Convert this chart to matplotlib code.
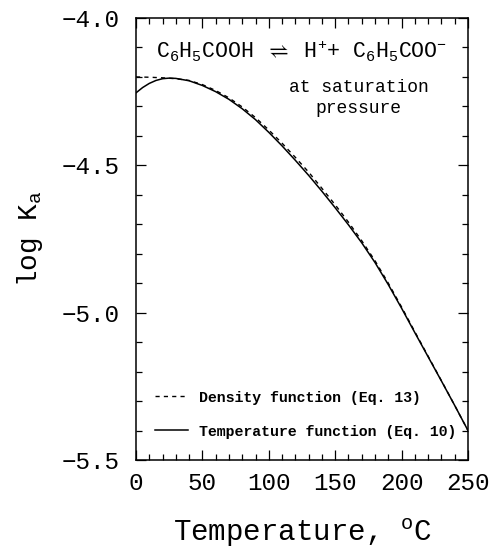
import matplotlib
matplotlib.use("Agg")
import matplotlib.pyplot as plt
from matplotlib.ticker import MultipleLocator
import numpy as np

# Data
temp_solid = [0, 5, 10, 15, 20, 25, 30, 40, 50, 60, 70, 80, 90, 100, 110, 120, 130, 140,
              150, 160, 170, 180, 190, 200, 210, 220, 230, 240, 250]
logk_solid = [-4.254, -4.236, -4.222, -4.212, -4.206, -4.204, -4.205, -4.213, -4.229,
              -4.250, -4.276, -4.308, -4.345, -4.388, -4.434, -4.483, -4.534, -4.588,
              -4.644, -4.702, -4.763, -4.830, -4.905, -4.985, -5.068, -5.150, -5.232,
              -5.315, -5.400]
temp_dash = [0, 10, 20, 30, 40, 50, 60, 70, 80, 90, 100, 110, 120, 130, 140, 150,
             160, 170, 180, 190, 200, 210, 220, 230, 240, 250]
logk_dash = [-4.200, -4.201, -4.203, -4.206, -4.212, -4.226, -4.246, -4.271, -4.302,
             -4.338, -4.380, -4.425, -4.473, -4.523, -4.578, -4.634, -4.693, -4.756,
             -4.824, -4.900, -4.981, -5.065, -5.148, -5.231, -5.315, -5.400]
xticks = [0, 50, 100, 150, 200, 250]
yticks = [-4.0, -4.5, -5.0, -5.5]

fam = ['Liberation Mono', 'DejaVu Sans Mono', 'DejaVu Sans']
plt.rcParams['font.family'] = fam
plt.rcParams['mathtext.fontset'] = 'custom'
plt.rcParams['mathtext.rm'] = 'Liberation Mono'
plt.rcParams['mathtext.it'] = 'Liberation Mono'
plt.rcParams['mathtext.bf'] = 'Liberation Mono:bold'
plt.rcParams['axes.unicode_minus'] = True

fig = plt.figure(figsize=(4.94, 5.51), dpi=100)
ax = fig.add_axes([136/494, 1-460/551, (468-136)/494, (460-18)/551])

ax.plot(temp_dash, logk_dash, color='black', lw=1.0, ls=(0, (3, 3)),
        label='Density function (Eq. 13)')
ax.plot(temp_solid, logk_solid, color='black', lw=1.1, ls='-',
        label='Temperature function (Eq. 10)')

ax.set_xlim(0, 250)
ax.set_ylim(-5.5, -4.0)
ax.set_xticks(xticks)
ax.set_yticks(yticks)
ax.set_xticklabels([str(t) for t in xticks])
ax.set_yticklabels(["\u2212%.1f" % abs(v) for v in yticks])
ax.xaxis.set_minor_locator(MultipleLocator(10))
ax.yaxis.set_minor_locator(MultipleLocator(0.1))
ax.tick_params(which='both', direction='in', top=True, right=True, width=0.9)
ax.tick_params(which='major', length=7, labelsize=17.5)
ax.tick_params(axis='x', which='major', pad=9)
ax.tick_params(axis='y', which='major', pad=12)
ax.tick_params(which='minor', length=4)
for s in ax.spines.values():
    s.set_linewidth(1.1)

ax.set_xlabel("Temperature, $^\\mathregular{o}$C", fontsize=21, labelpad=15)
ax.set_ylabel("log K$_\\mathregular{a}$", fontsize=20, labelpad=12)

ax.text(0.5, 0.925,
        "C$_\\mathregular{6}$H$_\\mathregular{5}$COOH $\\rightleftharpoons$ H$^\\mathregular{+}$+ C$_\\mathregular{6}$H$_\\mathregular{5}$COO$^\\mathregular{-}$",
        transform=ax.transAxes, ha='center', va='center', fontsize=15.5, family=fam)
ax.text(0.67, 0.82, "at saturation\npressure", transform=ax.transAxes,
        ha='center', va='center', fontsize=13, linespacing=1.3, family=fam)

leg = ax.legend(loc='lower left', bbox_to_anchor=(0.04, 0.035), frameon=False,
                prop={'family': fam, 'weight': 'bold', 'size': 10.7},
                handlelength=2.2, handletextpad=0.75, labelspacing=1.35,
                borderaxespad=0.0)

fig.savefig("out.png", dpi=100)
